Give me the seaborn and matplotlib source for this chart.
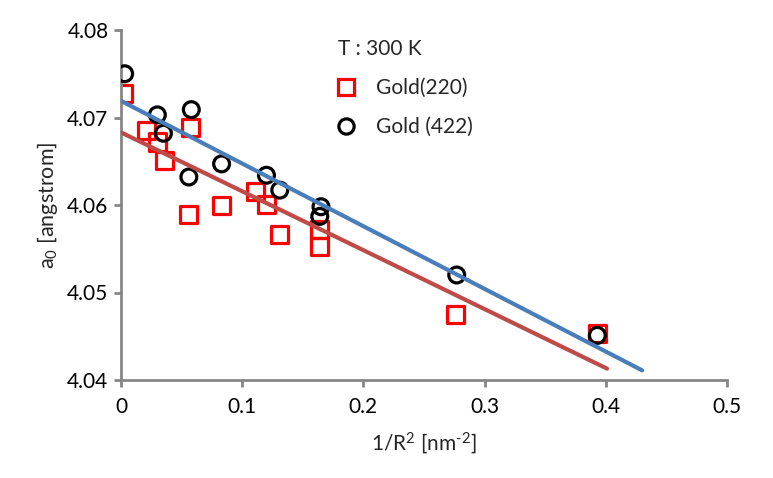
import matplotlib
matplotlib.use("Agg")
import matplotlib.pyplot as plt
from matplotlib.lines import Line2D
import seaborn as sns
import numpy as np

# Gold (220) data
x_220 = [0.002, 0.021, 0.030, 0.036, 0.057, 0.056, 0.083, 0.111, 0.120, 0.131, 0.164, 0.164, 0.276, 0.393]
y_220 = [4.0727, 4.0685, 4.0672, 4.0651, 4.0689, 4.0589, 4.0599, 4.0615, 4.0601, 4.0566, 4.0572, 4.0553, 4.0475, 4.0453]

# Gold (422)
x_422 = [0.003, 0.030, 0.035, 0.058, 0.056, 0.083, 0.120, 0.131, 0.165, 0.164, 0.277, 0.393]
y_422 = [4.0750, 4.0703, 4.0682, 4.0709, 4.0632, 4.0647, 4.0634, 4.0617, 4.0598, 4.0587, 4.0520, 4.0451]

# linear trend lines (end points)
fit_x_220 = [0.0, 0.401]
fit_y_220 = [4.0683, 4.0413]
fit_x_422 = [0.0, 0.430]
fit_y_422 = [4.0719, 4.0411]

labels = ["Gold(220)", "Gold (422)"]
legend_title = "T : 300 K"
x_ticks = [0, 0.1, 0.2, 0.3, 0.4, 0.5]
x_ticklabels = ["0", "0.1", "0.2", "0.3", "0.4", "0.5"]
y_ticks = [4.04, 4.05, 4.06, 4.07, 4.08]
y_ticklabels = ["4.04", "4.05", "4.06", "4.07", "4.08"]

red = "#FF0000"
black = "#000000"
line_red = "#BE4B48"
line_blue = "#4A7EBB"
grey = "#868686"
fs = 15

sns.set_style("white")
plt.rcParams['font.family'] = ['Lato', 'DejaVu Sans']
plt.rcParams['mathtext.fontset'] = 'custom'
plt.rcParams['mathtext.rm'] = 'Lato'
plt.rcParams['mathtext.it'] = 'Lato'

fig = plt.figure(figsize=(7.73, 4.78), dpi=100)
ax = fig.add_axes([121 / 773, 1 - 380 / 478, (727 - 121) / 773, (380 - 30) / 478])

sns.scatterplot(x=x_220, y=y_220, marker="s", s=150, facecolor="none",
                edgecolor=red, linewidth=2.3, ax=ax, zorder=2)
sns.scatterplot(x=x_422, y=y_422, marker="o", s=130, facecolor="none",
                edgecolor=black, linewidth=2.3, ax=ax, zorder=3)
sns.lineplot(x=fit_x_220, y=fit_y_220, color=line_red, linewidth=3, ax=ax, zorder=4)
sns.lineplot(x=fit_x_422, y=fit_y_422, color=line_blue, linewidth=3, ax=ax, zorder=4)

ax.set_xlim(0, 0.5)
ax.set_ylim(4.04, 4.08)
ax.set_xticks(x_ticks)
ax.set_xticklabels(x_ticklabels)
ax.set_yticks(y_ticks)
ax.set_yticklabels(y_ticklabels)

for side in ["top", "right"]:
    ax.spines[side].set_visible(False)
for side in ["left", "bottom"]:
    ax.spines[side].set_color(grey)
    ax.spines[side].set_linewidth(2)
ax.tick_params(axis="both", which="major", direction="out", length=5, width=2,
               color=grey, labelsize=fs, labelcolor="black", left=True, bottom=True)
ax.tick_params(axis="x", pad=7)
ax.tick_params(axis="y", pad=4)

# hyphen-style superscript minus like the original
ax.set_xlabel("1/R$^2$ [nm$^{\u2010 2}$]", fontsize=fs, labelpad=10)
ax.set_ylabel("a$_0$ [angstrom]", fontsize=fs + 0.5, labelpad=5)

handles = [
    Line2D([], [], marker="s", linestyle="none", markersize=12, markerfacecolor="none",
           markeredgecolor=red, markeredgewidth=2.3),
    Line2D([], [], marker="o", linestyle="none", markersize=11, markerfacecolor="none",
           markeredgecolor=black, markeredgewidth=2.3),
]
leg = ax.legend(handles, labels, title=legend_title, title_fontsize=fs, fontsize=fs,
                frameon=False, loc="upper left", bbox_to_anchor=(330 / 773, 1 - 31 / 478),
                bbox_transform=fig.transFigure, alignment="left",
                labelspacing=0.9, handlelength=0.7, handletextpad=1.1, borderaxespad=0)

fig.savefig("out.png", dpi=100)
